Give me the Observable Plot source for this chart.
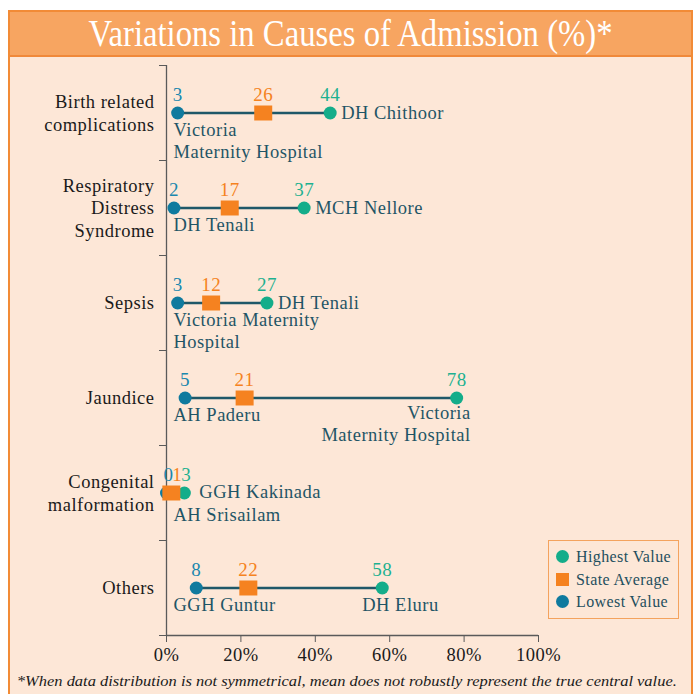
<!DOCTYPE html>
<html>
<head>
<meta charset="utf-8">
<script src="https://cdn.jsdelivr.net/npm/d3@7"></script>
<script src="https://cdn.jsdelivr.net/npm/@observablehq/plot@0.6"></script>
<style>
  html, body { margin: 0; padding: 0; background: #ffffff; width: 694px; height: 694px; overflow: hidden; }
  #frame { position: absolute; left: 8px; top: 10px; width: 685px; height: 700px; box-sizing: border-box;
           border: 2px solid #F28B36; background: #FDE7D7; }
  #title { position: absolute; left: 10px; top: 12px; width: 681px; height: 45px; background: #F7A561;
           border-bottom: 2px solid #F0893A; box-sizing: border-box; text-align: center; color: #fff;
           font-family: "Liberation Serif", serif; font-size: 37px; line-height: 44px; white-space: nowrap; overflow: hidden; }
  #title span { display: inline-block; transform-origin: center; }
  #chart { position: absolute; left: 0; top: 57px; }
  #footer { position: absolute; left: 0; top: 672px; width: 694px; text-align: center;
            font-family: "Liberation Serif", serif; font-style: italic; font-size: 15.5px; color: #1a1a1a; white-space: nowrap; }
  #footer span { display: inline-block; transform-origin: center; }
  #legend { position: absolute; left: 548px; top: 540px; width: 131px; height: 79px; box-sizing: border-box;
            border: 1.5px solid #F4A35E; font-family: "Liberation Serif", serif; font-size: 16px; letter-spacing: 0.4px; color: #1F4F5E; }
  .li { position: absolute; left: 27px; height: 20px; line-height: 20px; white-space: nowrap; }
  .sw { position: absolute; left: -20px; top: 3px; width: 13px; height: 13px; }
</style>
</head>
<body>
<div id="frame"></div>
<div id="title"><span>Variations in Causes of Admission (%)*</span></div>
<div id="chart"></div>
<div id="legend"></div>
<div id="footer"><span>*When data distribution is not symmetrical, mean does not robustly represent the true central value.</span></div>
<script>
// ---- data ----
const categories = ["Birth related\ncomplications", "Respiratory\nDistress\nSyndrome", "Sepsis", "Jaundice", "Congenital\nmalformation", "Others"];
const lowest  = [3, 2, 3, 5, 0, 8];
const average = [26, 17, 12, 21, 1.3, 22];
const highest = [44, 37, 27, 78, 4.8, 58];
const lowestText  = ["3", "2", "3", "5", "0", "8"];
const averageText = ["26", "17", "12", "21", "1", "22"];
const highestText = ["44", "37", "27", "78", "3", "58"];
const lowestName  = ["Victoria\nMaternity Hospital", "DH Tenali", "Victoria Maternity\nHospital", "AH Paderu", "AH Srisailam", "GGH Guntur"];
const highestName = ["DH Chithoor", "MCH Nellore", "DH Tenali", "Victoria\nMaternity Hospital", "GGH Kakinada", "DH Eluru"];
const xTicks = [0, 20, 40, 60, 80, 100];
const legendItems = ["Highest Value", "State Average", "Lowest Value"];

// ---- styles ----
const C_HIGH = "#14AD8A", C_LOW = "#0F7A9E", C_AVG = "#F58220", C_LINE = "#1F5868";
const C_HIGH_T = "#1DB190", C_LOW_T = "#1A88AE", C_NAME = "#1F5566";
const FONT = "Liberation Serif, serif";
const FS = 18.5, FN = 19;

const rows = categories.map((c, i) => ({
  i, cat: c, y: i + 0.5,
  low: lowest[i], avg: average[i], high: highest[i],
  lowT: lowestText[i], avgT: averageText[i], highT: highestText[i],
  lowN: lowestName[i], highN: highestName[i],
  crowded: highest[i] - lowest[i] < 8
}));
const spread = rows.filter(d => !d.crowded);
const crowded = rows.filter(d => d.crowded);
const rightName = rows.filter(d => d.high < 50 && !d.crowded);
const belowEnd = rows.filter(d => d.i === 3);
const belowStart = rows.filter(d => d.i === 5);

const rectSymbol = { draw(ctx) { ctx.rect(-9, -7.5, 18, 15); } };

const chart = Plot.plot({
  width: 694, height: 637,
  marginLeft: 166, marginRight: 156, marginTop: 8, marginBottom: 59,
  style: { background: "transparent", fontFamily: FONT, fontSize: "18px", letterSpacing: "0.5px", color: "#1a1a1a", overflow: "visible" },
  x: { domain: [0, 100] },
  y: { domain: [0, 6], reverse: true },
  marks: [
    Plot.axisX({ ticks: xTicks, tickFormat: d => d + "%", tickSize: 7, tickPadding: 5, label: null, stroke: "#5a5a5a", fontSize: FS, fill: "#1a1a1a" }),
    Plot.axisY({ ticks: d3.range(7), tickFormat: () => "", tickSize: 7, label: null, stroke: "#5a5a5a" }),
    Plot.ruleX([0], { stroke: "#5a5a5a", strokeWidth: 1.3 }),
    Plot.ruleY([6], { stroke: "#5a5a5a", strokeWidth: 1.3 }),
    Plot.text(rows, { x: d => 0, y: "y", text: "cat", textAnchor: "end", dx: -12, dy: -1, lineHeight: 1.22, fontSize: FS, fill: "#1a1a1a" }),
    Plot.ruleY(rows, { y: "y", x1: "low", x2: "high", stroke: C_LINE, strokeWidth: 2.5 }),
    Plot.dot(rows, { x: "low", y: "y", r: 6.5, fill: C_LOW }),
    Plot.dot(rows, { x: "high", y: "y", r: 6.5, fill: C_HIGH }),
    Plot.dot(rows, { x: "avg", y: "y", symbol: rectSymbol, r: 6, fill: C_AVG }),
    // numbers
    Plot.text(spread, { x: "low", y: "y", text: "lowT", dy: -18, fontSize: FN, fill: C_LOW_T }),
    Plot.text(spread, { x: "avg", y: "y", text: "avgT", dy: -18, fontSize: FN, fill: C_AVG }),
    Plot.text(spread, { x: "high", y: "y", text: "highT", dy: -18, fontSize: FN, fill: C_HIGH_T }),
    Plot.text(crowded, { x: "low", y: "y", text: "lowT", dy: -18, dx: 2, fontSize: FN, fill: C_LOW_T }),
    Plot.text(crowded, { x: "avg", y: "y", text: "avgT", dy: -18, dx: 6, fontSize: FN, fill: C_AVG }),
    Plot.text(crowded, { x: "high", y: "y", text: "highT", dy: -18, dx: 2, fontSize: FN, fill: C_HIGH_T }),
    // names
    Plot.text(spread, { x: d => 0, y: "y", text: "lowN", textAnchor: "start", dx: 7, lineAnchor: "top", dy: 7, lineHeight: 1.2, fontSize: FS, fill: C_NAME }),
    Plot.text(crowded, { x: d => 0, y: "y", text: "lowN", textAnchor: "start", dx: 7, lineAnchor: "top", dy: 12, lineHeight: 1.2, fontSize: FS, fill: C_NAME }),
    Plot.text(rightName, { x: "high", y: "y", text: "highN", textAnchor: "start", dx: 11, fontSize: FS, fill: C_NAME }),
    Plot.text(crowded, { x: "high", y: "y", text: "highN", textAnchor: "start", dx: 15, dy: -1, fontSize: FS, fill: C_NAME }),
    Plot.text(belowEnd, { x: "high", y: "y", text: "highN", textAnchor: "end", dx: 14, lineAnchor: "top", dy: 5, lineHeight: 1.2, fontSize: FS, fill: C_NAME }),
    Plot.text(belowStart, { x: "high", y: "y", text: "highN", textAnchor: "start", dx: -20, lineAnchor: "top", dy: 7, lineHeight: 1.2, fontSize: FS, fill: C_NAME })
  ]
});
document.getElementById("chart").appendChild(chart);

// legend
const legendColors = [C_HIGH, C_AVG, C_LOW];
const leg = document.getElementById("legend");
legendItems.forEach((t, k) => {
  const d = document.createElement("div");
  d.className = "li";
  d.style.top = (6 + k * 22.5) + "px";
  const sw = document.createElement("div");
  sw.className = "sw";
  sw.style.background = legendColors[k];
  if (k !== 1) sw.style.borderRadius = "50%";
  d.appendChild(sw);
  d.appendChild(document.createTextNode(t));
  leg.appendChild(d);
});

// fit widths of title and footer to the reference proportions
function fit(sel, w) {
  const s = document.querySelector(sel);
  const cw = s.getBoundingClientRect().width;
  s.style.transform = `scaleX(${w / cw})`;
}
fit("#title span", 524);
fit("#footer span", 660);
</script>
</body>
</html>
